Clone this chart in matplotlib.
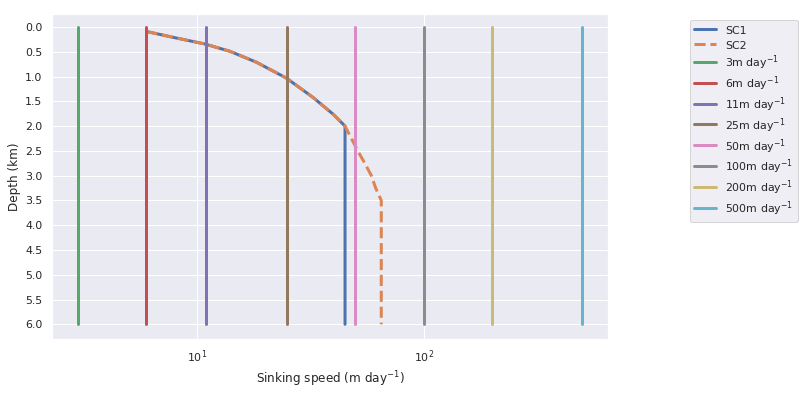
import numpy as np
import matplotlib
matplotlib.use("Agg")
import matplotlib.pyplot as plt
import seaborn as sns

sns.set_theme()

# Perfiles de velocidad
depth_sc1 = [0.09, 0.21, 0.34, 0.49, 0.71, 1.03, 1.42, 1.76, 2.0, 6.0]
speed_sc1 = [6.0, 7.9, 10.8, 14.0, 18.3, 24.8, 32.5, 39.9, 45.0, 45.0]
depth_sc2 = [0.09, 0.21, 0.34, 0.49, 0.71, 1.03, 1.42, 1.76, 2.0,
             2.25, 2.5, 2.75, 3.0, 3.25, 3.5, 6.0]
speed_sc2 = [6.0, 7.9, 10.8, 14.0, 18.3, 24.8, 32.5, 39.9, 45.0,
             48.0, 51.2, 55.0, 58.8, 61.4, 65.0, 65.0]

# Velocidades constantes
const_speeds = [3, 6, 11, 25, 50, 100, 200, 500]
depth_range = [0.0, 6.0]
y_ticks = [0.0, 0.5, 1.0, 1.5, 2.0, 2.5, 3.0, 3.5, 4.0, 4.5, 5.0, 5.5, 6.0]

fig = plt.figure(figsize=(806 / 72, 393 / 72), dpi=72)
ax = fig.add_axes([0.0645, 0.137, 0.6895, 0.827])

pal = sns.color_palette("deep")
ax.plot(speed_sc1, depth_sc1, '-', color=pal[0], lw=3, label='SC1')
ax.plot(speed_sc2, depth_sc2, '--', color=pal[1], lw=3, label='SC2')
for i, w in enumerate(const_speeds):
    ax.plot([w, w], depth_range, '-', color=pal[i + 2], lw=3,
            label=f'{w}m day$^{{-1}}$')

ax.set_xscale('log')
ax.set_xlim(2.3, 647)
ax.set_ylim(6.3, -0.26)
ax.set_yticks(y_ticks)
ax.set_xlabel('Sinking speed (m day$^{-1}$)')
ax.set_ylabel('Depth (km)')
ax.legend(loc='upper left', bbox_to_anchor=(1.138, 1.0),
          labelspacing=0.2, handleheight=1.4)

fig.savefig('out.png', dpi=72)
